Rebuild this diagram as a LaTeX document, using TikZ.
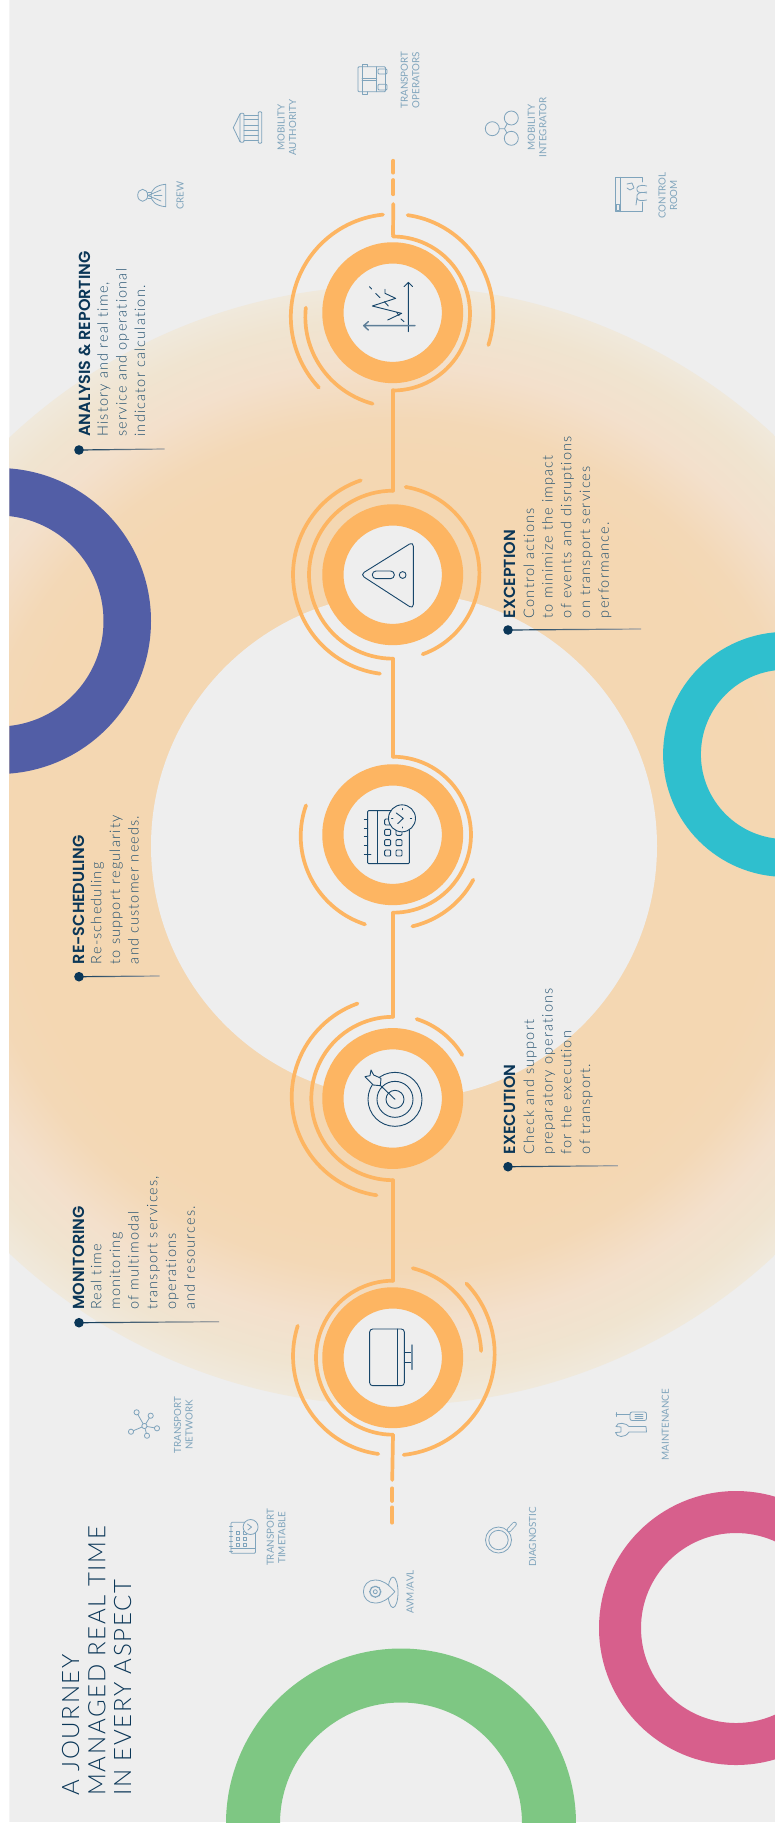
\documentclass[tikz,border=0pt]{standalone}
\usepackage{fontspec}
\setmainfont{Lato}
\newfontfamily\titlef[LetterSpace=7]{Lato Light}
\newfontfamily\headf{Poppins SemiBold}
\newfontfamily\bodyf[LetterSpace=8,Ligatures=NoCommon]{Lato Light}
\newfontfamily\labelf{Lato}
\definecolor{panel}{HTML}{EEEEEE}
\definecolor{orng}{HTML}{FDB562}
\definecolor{navy}{HTML}{0A3657}
\definecolor{bodyc}{HTML}{1F4E6E}
\definecolor{iconc}{HTML}{17466A}
\definecolor{soft}{HTML}{7FA4BC}
\definecolor{blueR}{HTML}{525EA6}
\definecolor{tealR}{HTML}{2FBFCE}
\definecolor{greenR}{HTML}{7EC783}
\definecolor{pinkR}{HTML}{D75F8C}
\definecolor{gA}{HTML}{F4D7B2}
\definecolor{gB}{HTML}{F3D8B6}
\definecolor{gC}{HTML}{F3E0CC}
\definecolor{gD}{HTML}{F0E4D0}
\definecolor{gE}{HTML}{F0E9DC}
\pgfdeclareradialshading{glow}{\pgfpoint{0bp}{0bp}}{color(0bp)=(gA); color(17bp)=(gA); color(19bp)=(gB); color(21.5bp)=(gC); color(23.5bp)=(gD); color(25bp)=(gE); color(50bp)=(gE)}
\tikzset{
 trail/.style={draw=orng,line width=3.7pt,line cap=round,line join=round},
 ringnode/.style={circle,draw=orng,fill=panel,line width=21.3pt,minimum size=119.6pt,inner sep=0pt,outer sep=0pt},
 hub/.style={circle,minimum size=#1,inner sep=0pt,outer sep=0pt},
 heading/.style={rotate=90,anchor=base west,inner sep=0pt,text=navy,font=\headf\fontsize{16}{18}\selectfont},
 bodytext/.style={rotate=90,anchor=base west,inner sep=0pt,text=bodyc,align=left,font=\bodyf\fontsize{14.5}{18.7}\selectfont},
 titletext/.style={rotate=90,anchor=base west,inner sep=0pt,text=navy,font=\titlef\fontsize{24}{30}\selectfont},
 lab/.style={rotate=90,anchor=center,inner sep=0pt,text=soft,align=center,font=\labelf\fontsize{9.8}{11.5}\selectfont},
 bullet/.style={circle,fill=navy,minimum size=9.6pt,inner sep=0pt,outer sep=0pt},
 ico/.style={draw=iconc,line width=.9pt,line join=round,line cap=round},
 sic/.style={draw=soft,line width=.8pt,line join=round,line cap=round}
}
\newcommand{\sweep}[6]{\draw[trail] plot[domain=0:1,samples=50,variable=\t] ({#1+(#4+(#6-(#4))*\t)*cos(#3+(#5-(#3))*\t)},{#2+(#4+(#6-(#4))*\t)*sin(#3+(#5-(#3))*\t)});}
\newcommand{\leader}[3]{\shade[left color=navy,right color=gray!70] (#1.center) ++(0,-.6) -- ($(#2)+(0,-.6)$) -- ($(#2)+(0,.6)$) -- ($(#1.center)+(0,.6)$) -- cycle;}
\usetikzlibrary{calc}
\begin{document}
\begin{tikzpicture}[x=1pt,y=-1pt]
\useasboundingbox (0,0) rectangle (775,1829);
\begin{scope}
\clip (9.4,0) rectangle (775,1822);
\fill[panel] (9.4,0) rectangle (775,1822);
\shade[shading=glow] (393,845.5) circle[radius=560pt];
\fill[panel] (404,846) circle[radius=253pt];
\draw[blueR,line width=47.5pt] (-2,621) circle[radius=129.25pt];
\draw[tealR,line width=37.8pt] (785.6,754.4) circle[radius=103.6pt];
\draw[greenR,line width=54pt] (401,1823.5) circle[radius=148pt];
\draw[pinkR,line width=42pt] (736,1628) circle[radius=116pt];
\end{scope}
% hubs for the connecting trail
\node[hub=155pt] (h1) at (393,312.7) {};
\node[hub=168pt] (h2) at (393,574.7) {};
\node[hub=156pt] (h3) at (393,834.7) {};
\node[hub=163.4pt] (h4) at (393,1098.5) {};
\node[hub=154pt] (h5) at (393,1357.7) {};
\coordinate (t0a) at (393.3,160.7); \coordinate (t0b) at (393.3,172.7);
\coordinate (t1a) at (393.3,180); \coordinate (t1b) at (393.3,194.3);
\coordinate (t2a) at (393.3,204);
\coordinate (b0) at (392.2,1480);
\coordinate (b1a) at (392.2,1488.3); \coordinate (b1b) at (392.2,1501);
\coordinate (b2a) at (392.2,1507.3); \coordinate (b2b) at (392.2,1522.7);
\draw[trail] (t0a)--(t0b);
\draw[trail] (t1a)--(t1b);
\draw[trail] (t2a)--(h1.north);
\draw[trail] (h1.south)--(h2.north);
\draw[trail] (h2.south)--(h3.north);
\draw[trail] (h3.south)--(h4.north);
\draw[trail] (h4.south)--(h5.north);
\draw[trail] (h5.south)--(b0);
\draw[trail] (b1a)--(b1b);
\draw[trail] (b2a)--(b2b);
% rings
\node[ringnode] (n1) at (392.7,312.7) {};
\node[ringnode] (n2) at (392.7,574.7) {};
\node[ringnode] (n3) at (392.7,834.7) {};
\node[ringnode] (n4) at (392.7,1098.5) {};
\node[ringnode] (n5) at (392.7,1357.7) {};
% arcs node 1
\sweep{393}{313.5}{-90}{77}{90}{77}
\sweep{392.7}{312.7}{-81.3}{98.7}{18.7}{101}
\sweep{394}{316}{263.8}{102}{136.3}{103.8}
\sweep{392.7}{312.7}{183.3}{87}{102.4}{93.2}
% node 2
\sweep{393}{574.7}{-90}{84}{-270}{84}
\sweep{392.7}{574.7}{-81.6}{88.7}{69.4}{85}
\sweep{392.7}{574.7}{251.3}{99.6}{97.3}{99.8}
% node 3
\sweep{393}{834.7}{-90}{78}{90}{78}
\sweep{392.7}{834.7}{29.2}{92.3}{77.9}{93.7}
\sweep{392.7}{834.7}{198.7}{91.5}{107.1}{93.8}
% node 4
\sweep{393}{1098.5}{-90}{81.7}{-270}{81.7}
\sweep{391}{1097}{250.3}{99.3}{98.3}{99.3}
\sweep{392.7}{1098.5}{-73.2}{83}{-32}{82}
% node 5
\sweep{393}{1357.7}{-90}{77}{-270}{77}
\sweep{392.7}{1357.7}{-77.4}{91.7}{-4.3}{88.7}
\sweep{393}{1354}{-43.8}{101.8}{84}{101.4}
\sweep{392.7}{1357.7}{198.6}{100.2}{98.5}{97.3}

% --- big icons, in crop coordinates (3 units per pixel)
\begin{scope}[shift={(275,195)},x=.33333pt,y=-.33333pt]
\draw[ico] (400,410)--(400,262) (387,275)--(400,262)--(413,275);
\draw[ico,draw=iconc!70,line width=1.4pt] (420,392)--(266,392) (280,380)--(266,392)--(280,405);
\draw[ico] (330,283)--(330,295)--(362,310)--(292,333)--(380,355)--(338,375);
\draw[ico] (283,275)--(290,282) (302,295)--(315,308) (328,320)--(340,333) (365,352)--(372,362) (378,372)--(387,380);
\end{scope}
\begin{scope}[shift={(275,457)},x=.33333pt,y=-.33333pt]
\draw[ico,rounded corners=4.5pt] (256,353)--(415,254)--(415,456)--cycle;
\draw[ico,rounded corners=3.7pt] (292,342) rectangle (358,365);
\draw[ico] (383,354) circle[radius=3.4pt];
\end{scope}
\begin{scope}[shift={(275,717)},x=.33333pt,y=-.33333pt]
\draw[ico,rounded corners=1pt] (278,281) rectangle (403,440);
\draw[ico] (308,281)--(308,440);
\draw[ico] (268,307)--(278,307) (268,333)--(278,333) (268,359)--(278,359) (268,386)--(278,386) (268,412)--(288,412);
\foreach \cx in {338,372}{\foreach \cy in {315,346,377,408}{\draw[ico,rounded corners=1pt] (\cx-9,\cy-9) rectangle (\cx+9,\cy+9);}}
\draw[ico,fill=panel] (381,304) circle[radius=13.5pt];
\draw[ico] (364,288)--(385,304)--(368,320);
\draw[ico] (381,275)--(381,278) (381,330)--(381,333) (350,304)--(354,304) (406,304)--(410,304);
\end{scope}
\begin{scope}[shift={(275,980)},x=.33333pt,y=-.33333pt]
\draw[ico] (360,358) circle[radius=27pt];
\draw[ico] (360,358) circle[radius=18pt];
\draw[ico] (360,358) circle[radius=9pt];
\draw[ico] (360,358)--(315,315);
\draw[ico,fill=panel] (288,270)--(296,285)--(318,295)--(316,317)--(295,315)--(270,290)--(285,287)--cycle;
\end{scope}
\begin{scope}[shift={(275,1240)},x=.33333pt,y=-.33333pt]
\draw[ico,rounded corners=3pt] (284,267) rectangle (388,437);
\draw[ico] (367,267)--(367,437);
\draw[ico] (388,338)--(411,338) (388,367)--(411,367);
\draw[ico,draw=iconc!60,line width=1.4pt] (411,315)--(411,388);
\end{scope}

% --- small icons
% bus
\draw[sic,rounded corners=1pt] (358,66.7) rectangle (385.5,91.7);
\draw[sic] (362.3,66.7)--(362.3,64)--(367.3,64)--(367.3,66.7) (362.3,91.7)--(362.3,94.3)--(367.3,94.3)--(367.3,91.7);
\draw[sic] (362,66.7)--(362,91.7) (376.7,66.7)--(376.7,91.7) (362,78.5)--(376.7,78.5) (362,80.3)--(376.7,80.3);
\draw[sic,rounded corners=1pt] (378,69) rectangle (387,74);
\draw[sic,rounded corners=1pt] (378,84.3) rectangle (387,90);
% building
\draw[sic] (240,114)--(233.3,127.7)--(240,141.7);
\draw[sic,rounded corners=1pt] (240,113.3) rectangle (244,142.3);
\draw[sic,rounded corners=1pt] (258.3,111.7) rectangle (261.7,143.3);
\draw[sic] (244,115)--(258.3,115) (244,119)--(258.3,119) (244,125)--(258.3,125) (244,130)--(258.3,130) (244,135.7)--(258.3,135.7) (244,140)--(258.3,140);
% crew
\draw[sic] (142.7,195.3) ellipse[x radius=5pt,y radius=6pt];
\draw[sic] (165.7,184.3)--(165.7,206.7) (165.7,184.3)..controls (156,185) and (151,190) .. (151,195.5) ..controls (151,201) and (156,206) .. (165.7,206.7);
\draw[sic] (147.7,192.5)--(151,192.5) (147.7,198.5)--(151,198.5) (148,195.5)--(161,190) (148,195.5)--(161,201) (154,195.5)--(162,195.5);
% integrator
\draw[sic] (492.3,128.7) circle[radius=7pt] (511.3,118) circle[radius=7pt] (511.3,138.3) circle[radius=7pt];
\draw[sic] (499.3,128.7)--(504.5,128.7)--(507,124) (504.5,128.7)--(507,133);
% control room
\draw[sic] (642.3,182)--(642.3,177.3)--(615.7,177.3)--(615.7,211.7)--(642.3,211.7)--(642.3,202);
\draw[sic] (620.7,177.3)--(620.7,211.7);
\draw[sic] (616.8,204) rectangle (619,210);
\draw[sic] (627,184)--(632,183)--(634,188)--(630,190)--(627,188);
\draw[sic] (646.7,186)..controls (639,184) and (636,187) .. (637,190) ..controls (637,193) and (642,193) .. (646.7,192);
\draw[sic] (646.7,193)..controls (639,191) and (636,194) .. (637,198) ..controls (637,201) and (642,201) .. (646.7,200);
\draw[sic] (637,198)--(636,205);
% network
\foreach \px/\py in {136.6/1412.3,150.7/1415.7,157/1428.3,147/1435.7,131/1431.7}{
 \draw[sic] (144.4,1426)--(\px,\py);
 \draw[sic,fill=panel] (\px,\py) circle[radius=2.6pt];}
\draw[sic,fill=panel] (144.4,1426) circle[radius=2.6pt];
% timetable
\draw[sic,rounded corners=1pt] (231,1522.3) rectangle (255.4,1553.3);
\draw[sic] (231,1548.5)--(255.4,1548.5);
\foreach \cx in {238,245}{\foreach \cy in {1533,1539,1545}{\draw[sic] (\cx-1.6,\cy-1.6) rectangle (\cx+1.6,\cy+1.6);}}
\foreach \cy in {1526,1531,1536,1541,1546,1551}{\draw[sic] (229.5,\cy)--(232.5,\cy);}
\draw[sic,fill=panel] (250.6,1527) circle[radius=7.5pt];
\draw[sic] (247.5,1524)--(251.5,1527)--(248,1530);
% avm
\draw[sic] (393,1592.3) ellipse[x radius=5pt,y radius=15.3pt];
\draw[sic,fill=panel] (394.9,1591.7)..controls (388,1584) and (383,1580) .. (375,1580) ..controls (368,1580) and (363.4,1585) .. (363.4,1591.7) ..controls (363.4,1598) and (368,1603) .. (375,1603) ..controls (383,1603) and (388,1599) .. (394.9,1591.7) -- cycle;
\draw[sic,densely dotted,line width=1.4pt] (375.3,1591.7) circle[radius=5.5pt];
\draw[sic] (375.3,1591.7) circle[radius=2pt];
% diagnostic
\draw[sic] (498.5,1540) circle[radius=13pt];
\draw[sic] (498.5,1540) circle[radius=9.7pt];
\draw[sic,double=panel,double distance=3pt] (509,1530)--(514.5,1524);
% maintenance
\draw[sic] (616,1414.3)--(630,1414.3);
\draw[sic] (616.5,1412.5)--(616.5,1416.5);
\draw[sic,rounded corners=2pt] (630,1412) rectangle (646.5,1420.5);
\draw[sic] (635,1414)--(643,1414) (635,1416.5)--(643,1416.5) (635,1418.5)--(643,1418.5);
\draw[sic] (616,1426.5)..controls (616.5,1424) and (619,1423) .. (622,1423.3) ..controls (625,1423.5) and (628,1425) .. (629,1426.5) -- (646,1426.5) -- (646.5,1432) -- (629,1432) ..controls (627,1435) and (624,1436.7) .. (621,1436.5) ..controls (618,1436.3) and (616,1435) .. (615.5,1432.5) -- (621,1432) -- (621,1427) -- cycle;

% --- labels
\node[lab] (lb1) at (410.2,80) {TRANSPORT\\OPERATORS};
\node[lab] (lb2) at (286.8,127.7) {MOBILITY\\AUTHORITY};
\node[lab] (lb3) at (180,195.5) {CREW};
\node[lab] (lb4) at (537,127.5) {MOBILITY\\INTEGRATOR};
\node[lab] (lb5) at (667.8,195.5) {CONTROL\\ROOM};
\node[lab] (lb6) at (183.4,1425) {TRANSPORT\\NETWORK};
\node[lab] (lb7) at (276,1537.5) {TRANSPORT\\TIMETABLE};
\node[lab] (lb8) at (410.2,1592) {AVM/AVL};
\node[lab] (lb9) at (532.7,1537) {DIAGNOSTIC};
\node[lab] (lb10) at (665.3,1424.5) {MAINTENANCE};

% --- title
\node[titletext] (ti1) at (79,1795.7) {A JOURNEY};
\node[titletext] (ti2) at (105.3,1795.7) {MANAGED REAL TIME};
\node[titletext] (ti3) at (131,1795.7) {IN EVERY ASPECT};

% --- step texts (a node's base is the baseline of its last line)
\node[heading] (hd1) at (90.5,436.7) {ANALYSIS \& REPORTING};
\node[bodytext] (tx1) at (145.2,436.7) {History and real time,\\service and operational\\indicator calculation.};
\node[bullet] (bl1) at (79,450) {};
\coordinate (le1) at (164.6,449);
\leader{bl1}{le1}{}

\node[heading] (hd2) at (515.6,618.3) {EXCEPTION};
\node[bodytext] (tx2) at (608.8,618.3) {Control actions\\to minimize the impact\\of events and disruptions\\on transport services\\performance.};
\node[bullet] (bl2) at (508,630) {};
\coordinate (le2) at (641,629);
\leader{bl2}{le2}{}

\node[heading] (hd3) at (84,964.3) {RE-SCHEDULING};
\node[bodytext] (tx3) at (138.7,964.3) {Re-scheduling\\to support regularity\\and customer needs.};
\node[bullet] (bl3) at (79,976.7) {};
\coordinate (le3) at (159.7,976);
\leader{bl3}{le3}{}

\node[heading] (hd4) at (515.6,1154.3) {EXECUTION};
\node[bodytext] (tx4) at (590.1,1154.3) {Check and support\\preparatory operations\\for the execution\\of transport.};
\node[bullet] (bl4) at (508,1166.7) {};
\coordinate (le4) at (618,1165.7);
\leader{bl4}{le4}{}

\node[heading] (hd5) at (84,1310) {MONITORING};
\node[bodytext] (tx5) at (194.8,1310) {Real time\\monitoring\\of multimodal\\transport services,\\operations\\and resources.};
\node[bullet] (bl5) at (79,1322.7) {};
\coordinate (le5) at (219,1321.7);
\leader{bl5}{le5}{}
\end{tikzpicture}
\end{document}
